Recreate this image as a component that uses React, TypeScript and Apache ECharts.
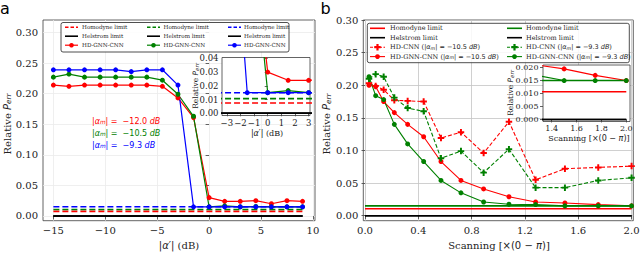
import React, { useEffect, useRef } from 'react';
import * as echarts from 'echarts';

// ---------------- Panel a data ----------------
const aX = [-15, -13.5, -12, -10.5, -9, -7.5, -6, -4.5, -3, -1.5, 0, 1.5, 3, 4.5, 6, 7.5, 9];
const aRedGnn = [0.214, 0.212, 0.214, 0.214, 0.214, 0.214, 0.214, 0.212, 0.193, 0.161, 0.030, 0.024, 0.024, 0.025, 0.020, 0.025, 0.024];
const aGreenGnn = [0.227, 0.232, 0.227, 0.227, 0.227, 0.227, 0.227, 0.222, 0.199, 0.163, 0.015, 0.0165, 0.015, 0.0155, 0.015, 0.015, 0.015];
const aBlueGnn = [0.239, 0.239, 0.239, 0.239, 0.239, 0.236, 0.239, 0.239, 0.214, 0.015, 0.015, 0.015, 0.015, 0.015, 0.015, 0.015, 0.015];
const aHomodyne = [0.0075, 0.0107, 0.015];
const aHelstrom = 0;
const aLimitRange = [-15, 9];
const aAlphaM = ['−12.0', '−10.5', '−9.3'];
const aXTicks = [-15, -10, -5, 0, 5, 10];
const aYTicks = [0, 0.05, 0.1, 0.15, 0.2, 0.25, 0.3];
const aInsetXTicks = [-3, -2, -1, 0, 1, 2, 3];
const aInsetYTicks = [0, 0.01, 0.02, 0.03, 0.04];

// ---------------- Panel b data ----------------
const bX = [0.03, 0.08, 0.14, 0.22, 0.32, 0.44, 0.57, 0.72, 0.89, 1.08, 1.28, 1.5, 1.75, 2.0];
const bCnnRed = [0.203, 0.199, 0.193, 0.177, 0.176, 0.175, 0.119, 0.128, 0.096, 0.144, 0.055, 0.072, 0.074, 0.076];
const bGnnRed = [0.200, 0.198, 0.175, 0.158, 0.140, 0.121, 0.083, 0.054, 0.041, 0.029, 0.021, 0.0195, 0.017, 0.015];
const bCnnGreen = [0.210, 0.217, 0.213, 0.181, 0.165, 0.160, 0.088, 0.099, 0.066, 0.102, 0.043, 0.043, 0.054, 0.058];
const bGnnGreen = [0.213, 0.184, 0.178, 0.140, 0.110, 0.083, 0.054, 0.035, 0.021, 0.0175, 0.017, 0.015, 0.015, 0.015];
const bHomodyne = [0.0107, 0.015];
const bHelstrom = 0;
const bLimitRange = [0, 2];
const bAlphaM = ['−10.5', '−9.3'];
const bXTicks = [0, 0.4, 0.8, 1.2, 1.6, 2.0];
const bYTicks = [0, 0.05, 0.1, 0.15, 0.2, 0.25, 0.3];
const bInsetXTicks = [1.4, 1.6, 1.8, 2.0];
const bInsetYTicks = [0, 0.005, 0.01, 0.015, 0.02];

// ---------------- styling ----------------
const RED = '#ff0000';
const GREEN = '#008000';
const BLUE = '#0000ff';
const SERIF = 'DejaVu Serif';
const SANS = 'DejaVu Sans';
const AXC = '#3c3c3c';
const PLUS = 'path://M3.5,0H6.5V3.5H10V6.5H6.5V10H3.5V6.5H0V3.5H3.5Z';

const minus = (s: string) => s.replace('-', '−');
const pairs = (xs: number[], ys: number[]) => xs.map((x, i) => [x, ys[i]]);
const hline = (xr: number[], y: number) => xr.map((x) => [x, y]);

function mkAxis(
  gi: number, min: number, max: number, ticks: number[], fmt: (v: number) => string,
  o: { fs: number; margin: number; grid?: string; z?: number; tick?: number }
) {
  return {
    type: 'value', gridIndex: gi, min, max, z: o.z ?? 0,
    axisLine: { show: false },
    axisTick: { show: true, inside: false, length: o.tick ?? 3.5, customValues: ticks, lineStyle: { color: AXC, width: 0.8 } },
    axisLabel: { show: true, customValues: ticks, formatter: (v: number) => fmt(v), fontFamily: SERIF, fontSize: o.fs, color: '#222', margin: o.margin, hideOverlap: false },
    splitLine: { show: !!o.grid, lineStyle: { color: o.grid ?? '#ccc', width: 0.8 } },
    splitArea: { show: false },
  };
}

function lineSeries(ai: number, data: number[][], color: string, width: number, type: any, z: number, extra: any = {}) {
  return {
    type: 'line', xAxisIndex: ai, yAxisIndex: ai, data, z, clip: true, silent: true,
    symbol: 'none', lineStyle: { color, width, type }, itemStyle: { color },
    emphasis: { disabled: true },
    ...extra,
  };
}

function aSeries(ai: number, z: number) {
  const out: any[] = [];
  const sets: [string, number, number[]][] = [
    [RED, aHomodyne[0], aRedGnn], [GREEN, aHomodyne[1], aGreenGnn], [BLUE, aHomodyne[2], aBlueGnn],
  ];
  sets.forEach(([c, h, d]) => {
    out.push(lineSeries(ai, hline(aLimitRange, h), c, 1.6, [6, 3], z));
    out.push(lineSeries(ai, hline(aLimitRange, aHelstrom), '#000', 1.6, 'solid', z));
    out.push(lineSeries(ai, pairs(aX, d), c, 1.2, 'solid', z, { symbol: 'circle', symbolSize: 5, showSymbol: true }));
  });
  return out;
}

function bSeries(ai: number, z: number) {
  const out: any[] = [];
  const sets: [string, number, number[], number[]][] = [
    [RED, bHomodyne[0], bCnnRed, bGnnRed], [GREEN, bHomodyne[1], bCnnGreen, bGnnGreen],
  ];
  sets.forEach(([c, h, cnn, gnn]) => {
    out.push(lineSeries(ai, hline(bLimitRange, h), c, 1.6, 'solid', z));
    out.push(lineSeries(ai, hline(bLimitRange, bHelstrom), '#000', 1.6, 'solid', z));
    out.push(lineSeries(ai, pairs(bX, cnn), c, 1.1, [4, 2], z, { symbol: PLUS, symbolSize: 6.5, showSymbol: true }));
    out.push(lineSeries(ai, pairs(bX, gnn), c, 1.1, 'solid', z, { symbol: 'circle', symbolSize: 5, showSymbol: true }));
  });
  return out;
}

// -------------- graphic helpers --------------
const LZ = 50;
const gLine = (x1: number, y1: number, x2: number, y2: number, stroke: string, lineWidth: number, dash?: number[]) => ({
  type: 'line', z: LZ, silent: true, shape: { x1, y1, x2, y2 }, style: { stroke, lineWidth, lineDash: dash },
});
const gCircle = (cx: number, cy: number, r: number, fill: string) => ({
  type: 'circle', z: LZ, silent: true, shape: { cx, cy, r }, style: { fill },
});
const gPlus = (cx: number, cy: number, L: number, w: number, fill: string) => ({
  type: 'polygon', z: LZ, silent: true,
  shape: {
    points: [
      [cx - w, cy - L], [cx + w, cy - L], [cx + w, cy - w], [cx + L, cy - w], [cx + L, cy + w], [cx + w, cy + w],
      [cx + w, cy + L], [cx - w, cy + L], [cx - w, cy + w], [cx - L, cy + w], [cx - L, cy - w], [cx - w, cy - w],
    ],
  },
  style: { fill },
});
const mathRich = (fs: number, fill: string) => ({
  a: { fontFamily: SANS, fontStyle: 'italic', fontSize: fs, fill },
  s: { fontFamily: SANS, fontStyle: 'italic', fontSize: fs * 0.72, fill, verticalAlign: 'bottom' },
  p: { fontFamily: SANS, fontStyle: 'italic', fontSize: fs, fill },
  n: { fontFamily: SANS, fontSize: fs, fill },
});
const gText = (x: number, y: number, text: string, fs: number, fill: string, opts: any = {}) => ({
  type: 'text', z: LZ, silent: true, x, y, rotation: opts.rotation ?? 0,
  style: {
    text, fontSize: fs, fontFamily: opts.family ?? SERIF, fill,
    align: opts.align ?? 'left', verticalAlign: 'middle', rich: mathRich(fs, fill),
  },
});

function buildGraphics() {
  const els: any[] = [];
  // panel titles
  els.push(gText(0, 8.5, 'a', 16, '#000', { family: SANS }));
  els.push(gText(320.5, 8.5, 'b', 16, '#000', { family: SANS }));

  // axis titles
  const yTitle = 'Relative {p|P}{s|err}';
  els.push(gText(7, 124, yTitle, 10, '#222', { align: 'center', rotation: Math.PI / 2 }));
  els.push(gText(326.5, 124, yTitle, 10, '#222', { align: 'center', rotation: Math.PI / 2 }));
  els.push(gText(179, 245, '{n||}{a|α}{n|′|} (dB)', 10, '#222', { align: 'center' }));
  els.push(gText(499, 245, 'Scanning [{n|×(0 − }{a|π}{n|)}]', 10, '#222', { align: 'center' }));
  // inset titles
  els.push(gText(195.5, 86, yTitle, 7.5, '#222', { align: 'center', rotation: Math.PI / 2 }));
  els.push(gText(267, 133.5, '{n||}{a|α}{n|′|} (dB)', 8, '#222', { align: 'center' }));
  els.push(gText(510.5, 93, yTitle, 7.5, '#222', { align: 'center', rotation: Math.PI / 2 }));
  els.push(gText(589, 138, 'Scanning [{n|×(0 − }{a|π}{n|)}]', 8, '#222', { align: 'center' }));

  // annotations panel a
  const annColors = [RED, GREEN, BLUE];
  aAlphaM.forEach((v, i) => {
    els.push(gText(92, 121 + i * 12, `{n||}{a|α}{s|m}{n|| =  ${v} }{a|dB}`, 8, annColors[i], { family: SANS }));
  });

  // legend panel a
  els.push({ type: 'rect', z: LZ - 1, silent: true, shape: { x: 61, y: 22.5, width: 228, height: 29.5, r: 2 }, style: { fill: 'rgba(255,255,255,0.85)', stroke: '#222', lineWidth: 0.8 } });
  const aCols = [{ h0: 65, h1: 78, t: 82, c: RED }, { h0: 147, h1: 160, t: 163.5, c: GREEN }, { h0: 228, h1: 241, t: 244, c: BLUE }];
  const aRows = [27.2, 36.2, 45.2];
  aCols.forEach((col) => {
    els.push(gLine(col.h0, aRows[0], col.h1, aRows[0], col.c, 1.5, [3.5, 2]));
    els.push(gText(col.t, aRows[0], 'Homodyne limit', 5.6, '#222'));
    els.push(gLine(col.h0, aRows[1], col.h1, aRows[1], '#000', 1.6));
    els.push(gText(col.t, aRows[1], 'Helstrom limit', 5.6, '#222'));
    els.push(gLine(col.h0, aRows[2], col.h1, aRows[2], col.c, 1.2));
    els.push(gCircle((col.h0 + col.h1) / 2, aRows[2], 2.3, col.c));
    els.push(gText(col.t, aRows[2], 'HD-GNN-CNN', 5.6, '#222'));
  });

  // legend panel b
  els.push({ type: 'rect', z: LZ - 1, silent: true, shape: { x: 367.3, y: 23.3, width: 262, height: 39.4, r: 2 }, style: { fill: 'rgba(255,255,255,0.85)', stroke: '#222', lineWidth: 0.8 } });
  const bCols = [{ h0: 370, h1: 385, t: 390, c: RED, v: bAlphaM[0] }, { h0: 507, h1: 522, t: 526, c: GREEN, v: bAlphaM[1] }];
  const bRows = [28.3, 37.7, 47.2, 56.6];
  bCols.forEach((col) => {
    const cx = (col.h0 + col.h1) / 2;
    els.push(gLine(col.h0, bRows[0], col.h1, bRows[0], col.c, 1.6));
    els.push(gText(col.t, bRows[0], 'Homodyne limit', 6.5, '#222'));
    els.push(gLine(col.h0, bRows[1], col.h1, bRows[1], '#000', 1.6));
    els.push(gText(col.t, bRows[1], 'Helstrom limit', 6.5, '#222'));
    els.push(gLine(col.h0, bRows[2], col.h1, bRows[2], col.c, 1.1, [3, 1.5]));
    els.push(gPlus(cx, bRows[2], 3.2, 1.1, col.c));
    els.push(gText(col.t, bRows[2], `HD-CNN ({n||}{a|α}{s|m}{n|| = ${col.v} }{a|dB})`, 6.5, '#222'));
    els.push(gLine(col.h0, bRows[3], col.h1, bRows[3], col.c, 1.1));
    els.push(gCircle(cx, bRows[3], 2.4, col.c));
    els.push(gText(col.t, bRows[3], `HD-GNN-CNN ({n||}{a|α}{s|m}{n|| = ${col.v} }{a|dB})`, 6.5, '#222'));
  });
  return els;
}

const fmtInt = (v: number) => minus(String(Math.round(v)));
const fmt2 = (v: number) => v.toFixed(2);
const fmt1 = (v: number) => v.toFixed(1);
const fmt3 = (v: number) => v.toFixed(3);

function buildOption() {
  const gridBase = { show: true, borderColor: AXC, borderWidth: 0.8, backgroundColor: '#fff', containLabel: false, outerBoundsMode: 'none' };
  return {
    animation: false,
    backgroundColor: '#fff',
    grid: [
      { ...gridBase, left: 43, top: 20, width: 272, height: 200.7, z: 0 },
      { ...gridBase, left: 222, top: 57.5, width: 88, height: 58, z: 10 },
      { ...gridBase, left: 363.3, top: 20, width: 270, height: 200.7, z: 0 },
      { ...gridBase, left: 543, top: 65, width: 87, height: 56.5, z: 10 },
    ],
    xAxis: [
      mkAxis(0, -16, 10.2, aXTicks, fmtInt, { fs: 10, margin: 4.5, grid: '#ebebeb' }),
      mkAxis(1, -3.35, 3.1, aInsetXTicks, fmtInt, { fs: 8.5, margin: 3, z: 11, tick: 3 }),
      mkAxis(2, -0.0128, 2.013, bXTicks, fmt1, { fs: 10, margin: 4.5, grid: '#c4c4c4' }),
      mkAxis(3, 1.33, 2.03, bInsetXTicks, fmt1, { fs: 8, margin: 3, z: 11, tick: 3 }),
    ],
    yAxis: [
      mkAxis(0, -0.0077, 0.3204, aYTicks, fmt2, { fs: 10, margin: 5, grid: '#ebebeb' }),
      mkAxis(1, -0.0016, 0.0406, aInsetYTicks, fmt2, { fs: 8.5, margin: 3.5, z: 11, tick: 3 }),
      mkAxis(2, -0.0077, 0.3, bYTicks, fmt2, { fs: 10, margin: 5, grid: '#c4c4c4' }),
      mkAxis(3, -0.0008, 0.021, bInsetYTicks, fmt3, { fs: 8, margin: 4.5, z: 11, tick: 3 }),
    ],
    series: [...aSeries(0, 2), ...aSeries(1, 12), ...bSeries(2, 2), ...bSeries(3, 12)],
    graphic: { elements: buildGraphics() },
  };
}

export default function App() {
  const ref = useRef<HTMLDivElement>(null);
  useEffect(() => {
    if (!ref.current) return;
    const chart = echarts.init(ref.current, null, { renderer: 'svg' });
    chart.setOption(buildOption() as any);
    return () => chart.dispose();
  }, []);
  return <div ref={ref} style={{ position: 'absolute', left: 0, top: 0, width: 640, height: 265 }} />;
}
